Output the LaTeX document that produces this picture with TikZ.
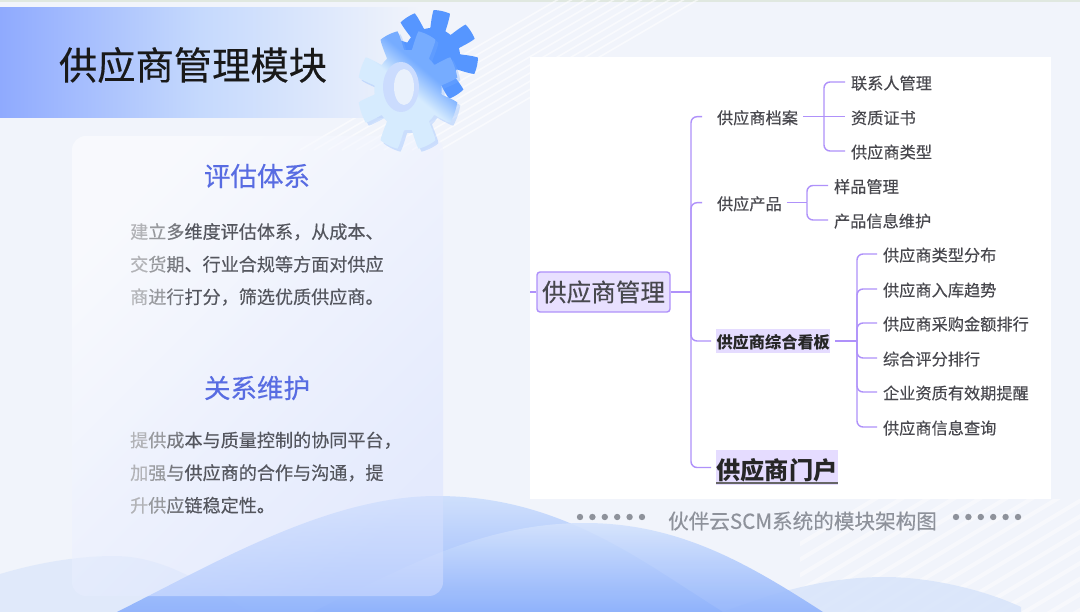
\documentclass[tikz,border=0pt]{standalone}
\usepackage{fontspec}
\setmainfont{Noto Sans CJK SC}
\newfontfamily\semifont[FakeBold=0.3]{Noto Sans CJK SC}
\usepackage{tikz}
\usetikzlibrary{positioning,calc,fadings}
\definecolor{pagebg}{RGB}{241,244,251}
\definecolor{bannerblue}{RGB}{143,170,254}
\definecolor{bannermid}{RGB}{197,217,253}
\definecolor{headblue}{RGB}{88,108,226}
\definecolor{bodygray}{RGB}{84,86,94}
\definecolor{wavemain}{RGB}{143,178,252}
\definecolor{wavepale}{RGB}{214,227,250}
\definecolor{linepurple}{RGB}{175,145,250}
\definecolor{rootfill}{RGB}{232,224,255}
\definecolor{markfill}{RGB}{229,220,255}
\definecolor{inkgray}{RGB}{72,72,78}
\definecolor{captiongray}{RGB}{142,146,155}
\definecolor{gearpale}{RGB}{214,235,254}
\definecolor{gearblue}{RGB}{118,172,255}
\definecolor{geardeep}{RGB}{86,150,255}
\pgfdeclareverticalshading{gearshade}{100bp}{color(0bp)=(gearpale); color(50bp)=(gearpale); color(62bp)=(gearblue); color(100bp)=(gearblue)}
\tikzset{
  branch/.style={draw=linepurple, line width=1.4pt, rounded corners=6pt},
  leaf/.style={font=\fontsize{16.2}{17}\semifont, text=inkgray, inner sep=0pt, outer xsep=6pt, anchor=west, text height=16.5pt, text depth=2pt},
  topic/.style={font=\fontsize{16.2}{17}\semifont, text=inkgray, inner sep=0pt, outer xsep=5pt, anchor=west, text height=16.5pt, text depth=2pt},
  marked/.style={fill=markfill, anchor=west, outer xsep=5pt, inner xsep=0.5pt, text=black!85},
  headtext/.style={font=\fontsize{26.5}{27}\semifont, text=headblue, inner sep=0pt},
  bodytext/.style={font=\fontsize{18.1}{32.6}\semifont, text=bodygray, inner sep=0pt, anchor=north west, align=left},
  capdot/.style={fill=captiongray, circle, minimum size=6.4pt, inner sep=0pt},
}
\newcommand{\fadeword}[3]{\textcolor{bodygray!45}{#1}\textcolor{bodygray!60}{#2}\textcolor{bodygray!80}{#3}}
\begin{document}
\begin{tikzpicture}[x=1pt,y=-1pt]
\useasboundingbox (0,0) rectangle (1080,612);
% 배경
\fill[pagebg] (0,0) rectangle (1080,612);
\fill[green!25!black!12] (0,0) rectangle (1080,2);
\begin{scope}
\clip (230,0) rectangle (1080,300);
\foreach \s in {0,14,...,140} {
  \draw[white, line width=1.6pt, opacity=.6] (300+\s,150) -- (600+\s,-25);
}
\end{scope}
\begin{scope}
\clip (800,499) rectangle (1080,612);
\foreach \s in {0,26,...,520} {
  \draw[white, line width=4pt, opacity=.45] (640+\s,640) -- (1040+\s,400);
}
\end{scope}

% 물결
\fill[wavepale, opacity=.6] (0,574) .. controls (40,562) and (80,556) .. (114,556) .. controls (160,556) and (200,580) .. (250,612) -- (0,612) -- cycle;
\fill[wavepale, opacity=.8] (723,612) .. controls (780,590) and (830,577) .. (885,577) .. controls (930,577) and (985,590) .. (1021,607) -- (1021,612) -- cycle;
\shade[top color=bannermid!85!white, bottom color=wavemain, opacity=.95] (117,612) .. controls (220,560) and (330,496) .. (437,496) .. controls (560,496) and (640,560) .. (723,612) -- cycle;
\shade[top color=bannermid!75!white, bottom color=wavemain, opacity=.9] (313,612) .. controls (400,570) and (480,523) .. (585,523) .. controls (680,523) and (750,565) .. (823,612) -- cycle;

% 패널
\shade[top color=white, bottom color=bannerblue!35!white, shading angle=45, opacity=.5, rounded corners=14pt] (72,136) rectangle (443,596);

% 제목 띠
\shade[left color=bannerblue, right color=bannermid] (0,8) rectangle (200,118);
\shade[left color=bannermid, right color=pagebg] (200,8) rectangle (420,118);
\node[inner sep=0pt, text=black!90, font=\fontsize{38.3}{39}\semifont] (title) at (193,65) {供应商管理模块};

% 톱니바퀴
\fill[geardeep, rotate around={10:(432,56)}] plot[domain=0:360, samples=361] ({432+(37+9*min(1,max(-1,3*sin(8*\x-90)+.8)))*cos(\x)}, {56+(37+9*min(1,max(-1,3*sin(8*\x-90)+.8)))*sin(\x)});
\fill[gearblue, opacity=.3] plot[domain=0:360, samples=361] ({411+.84*(50+10*min(1,max(-1,3*sin(8*\x-90)+.8)))*cos(\x)}, {93+(50+10*min(1,max(-1,3*sin(8*\x-90)+.8)))*sin(\x)});
\shade[shading=gearshade, shading angle=-40] plot[domain=0:360, samples=361] ({408+.84*(50+10*min(1,max(-1,3*sin(8*\x-90)+.8)))*cos(\x)}, {90+(50+10*min(1,max(-1,3*sin(8*\x-90)+.8)))*sin(\x)});
\fill[gearpale!92!blue!90!white] (401,87) ellipse (18 and 25);
\fill[pagebg!70!gearpale] (404,87) ellipse (10 and 18);

% 왼쪽 글
\node[headtext] (evalhead) at (257,176) {评估体系};
\node[bodytext] (evalbody) at (130,223) {\fadeword{建}{立}{多}维度评估体系，从成本、\\\fadeword{交}{货}{期}、行业合规等方面对供应\\\fadeword{商}{进}{行}打分，筛选优质供应商。};
\node[headtext] (carehead) at (257,388) {关系维护};
\node[bodytext] (carebody) at (130,431.5) {\fadeword{提}{供}{成}本与质量控制的协同平台，\\\fadeword{加}{强}{与}供应商的合作与沟通，提\\\fadeword{升}{供}{应}链稳定性。};

% 마인드맵
\fill[white] (530,57) rectangle (1051,499);
\node[draw=linepurple, fill=rootfill, line width=1.4pt, rounded corners=3pt, text=inkgray, font=\fontsize{24.6}{25}\semifont, minimum width=133pt, minimum height=40pt, inner sep=0pt] (root) at (603.5,292) {供应商管理};
\coordinate (rootin) at (530,292);
\coordinate (spine) at (691,292);

\node[topic] (archive) at (712,116.7) {供应商档案};
\node[topic] (product) at (712,202.7) {供应产品};
\node[marked, font=\fontsize{16.2}{17}\bfseries, inner ysep=2.8pt, text height=16.3pt, text depth=2pt] (board) at (711,341) {供应商综合看板};
\node[marked, font=\fontsize{24.2}{25}\bfseries, inner ysep=3pt, text height=26pt, text depth=3pt] (portal) at (711,467.5) {供应商门户};
\draw[black!60, line width=2pt] ([yshift=2.5pt,xshift=5pt]portal.south west) -- ([yshift=2.5pt,xshift=-5pt]portal.south east);

\node[leaf] (contact) at (845,82) {联系人管理};
\node[leaf] (licence) at (845,116.7) {资质证书};
\node[leaf] (kind) at (845,151) {供应商类型};
\node[leaf] (sample) at (828,185.5) {样品管理};
\node[leaf] (info) at (828,220) {产品信息维护};
\node[leaf] (spread) at (877,254) {供应商类型分布};
\node[leaf] (trend) at (877,289) {供应商入库趋势};
\node[leaf] (amount) at (877,323) {供应商采购金额排行};
\node[leaf] (score) at (877,358) {综合评分排行};
\node[leaf] (expiry) at (877,392) {企业资质有效期提醒};
\node[leaf] (query) at (877,427) {供应商信息查询};

\coordinate (archivehub) at (824,116.7);
\coordinate (producthub) at (807,202.7);
\coordinate (boardhub) at (857,341);

% 연결선
\draw[branch] (rootin) -- (root.west);
\draw[branch] (root.east) -- (spine);
\foreach \k in {archive,product} {
  \draw[branch, shorten >=10pt] (spine) |- (\k.west);
}
\foreach \k in {board,portal} {
  \draw[branch] (spine) |- (\k.west);
}
\draw[branch] (archive.east) -- (archivehub) -- (licence.west);
\foreach \k in {contact,kind} {
  \draw[branch] (archivehub) |- (\k.west);
}
\draw[branch] (product.east) -- (producthub);
\foreach \k in {sample,info} {
  \draw[branch] (producthub) |- (\k.west);
}
\draw[branch] (board.east) -- (boardhub);
\foreach \k in {spread,trend,amount,score,expiry,query} {
  \draw[branch] (boardhub) |- (\k.west);
}

% 아래 설명
\node[inner sep=0pt, text=captiongray, font=\fontsize{20.6}{21}\semifont] (caption) at (802.5,521) {伙伴云SCM系统的模块架构图};
\foreach \i in {0,...,5} {
  \node[capdot] (ldot\i) at (580+12.4*\i,517) {};
  \node[capdot] (rdot\i) at (956+12.4*\i,517) {};
}
\end{tikzpicture}
\end{document}
